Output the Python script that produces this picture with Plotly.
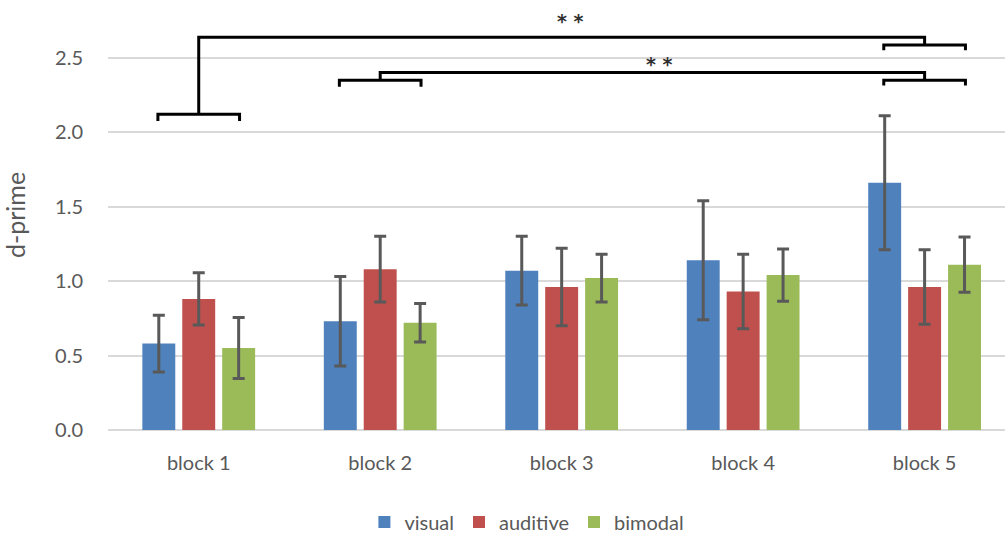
import plotly.graph_objects as go

# d-prime per block and modality (mean and error)
blocks = ["block 1", "block 2", "block 3", "block 4", "block 5"]
visual = [0.58, 0.73, 1.07, 1.14, 1.66]
visual_err = [0.19, 0.30, 0.23, 0.40, 0.45]
auditive = [0.88, 1.08, 0.96, 0.93, 0.96]
auditive_err = [0.175, 0.22, 0.26, 0.25, 0.25]
bimodal = [0.55, 0.72, 1.02, 1.04, 1.11]
bimodal_err = [0.205, 0.13, 0.16, 0.175, 0.185]

series_names = ["visual", "auditive", "bimodal"]
series_colors = ["#4F81BD", "#C0504D", "#9BBB59"]
y_ticks = [0.0, 0.5, 1.0, 1.5, 2.0, 2.5]

fig = go.Figure()
for name, vals, errs, col in zip(series_names,
                                 [visual, auditive, bimodal],
                                 [visual_err, auditive_err, bimodal_err],
                                 series_colors):
    fig.add_trace(go.Bar(
        x=blocks, y=vals, name=name, marker_color=col, marker_line_width=0,
        error_y=dict(type="data", array=errs, color="#595959",
                     thickness=3, width=6),
    ))

# significance brackets: (left block index, right block index,
# left bracket level, top connector level, right bracket level)
half = 0.225
leg = 0.045
comparisons = [
    (0, 4, 2.12, 2.637, 2.585),
    (1, 4, 2.349, 2.40, 2.349),
]
shapes = []
for a, b, y_left, y_top, y_right in comparisons:
    path = (f"M {a - half},{y_left - leg} L {a - half},{y_left} "
            f"L {a + half},{y_left} L {a + half},{y_left - leg}")
    shapes.append(dict(type="path", path=path, xref="x", yref="y",
                       line=dict(color="black", width=3)))
    path = (f"M {b - half},{y_right - leg * 0.8} L {b - half},{y_right} "
            f"L {b + half},{y_right} L {b + half},{y_right - leg * 0.8}")
    shapes.append(dict(type="path", path=path, xref="x", yref="y",
                       line=dict(color="black", width=3)))
    path = f"M {a},{y_left} L {a},{y_top} L {b},{y_top} L {b},{y_right}"
    shapes.append(dict(type="path", path=path, xref="x", yref="y",
                       line=dict(color="black", width=3)))

star_font = dict(size=19, color="#303030", family="DejaVu Sans")
annotations = [
    dict(x=2.05, y=2.745, xref="x", yref="y", text="<b>* *</b>",
         showarrow=False, font=star_font),
    dict(x=2.54, y=2.46, xref="x", yref="y", text="<b>* *</b>",
         showarrow=False, font=star_font),
]

font_family = "Lato, 'Open Sans', sans-serif"
fig.update_layout(
    width=1005, height=536,
    margin=dict(l=108, r=0, t=0, b=105.5, autoexpand=False),
    paper_bgcolor="white", plot_bgcolor="white",
    barmode="group", bargap=0.34, bargroupgap=0.175,
    font=dict(family=font_family, size=20, color="#595959"),
    shapes=shapes, annotations=annotations,
    legend=dict(orientation="h", x=0.467, xanchor="center",
                yref="container", y=0.026, yanchor="middle",
                font=dict(size=20, color="#595959"),
                itemwidth=30, traceorder="normal"),
    xaxis=dict(range=[-0.5, 4.443], showgrid=False, zeroline=False,
               showline=False, ticks="outside", ticklen=15,
               tickcolor="rgba(0,0,0,0)"),
    yaxis=dict(range=[0, 2.887], tickvals=y_ticks,
               ticktext=[f"{v:.1f}" for v in y_ticks],
               showgrid=True, gridcolor="#D9D9D9", gridwidth=2,
               zeroline=True, zerolinecolor="#D9D9D9", zerolinewidth=2,
               showline=False, ticks="outside", ticklen=20,
               tickcolor="rgba(0,0,0,0)",
               title=dict(text="d-prime", standoff=26,
                          font=dict(size=25, color="#595959"))),
)

fig.write_html("out.html")
